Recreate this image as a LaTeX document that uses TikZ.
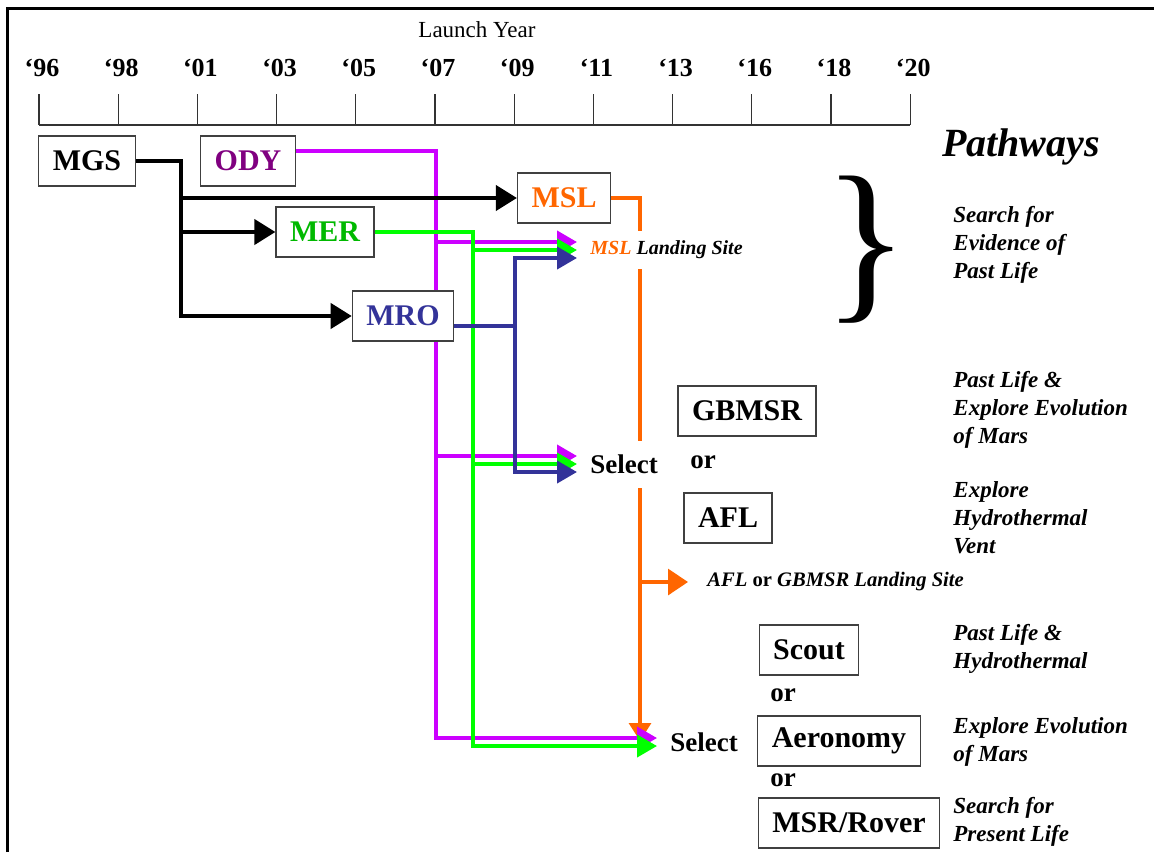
\documentclass[tikz,border=0pt]{standalone}
\usepackage{fontspec}
\setmainfont{Liberation Serif}
\usetikzlibrary{arrows.meta,backgrounds}

\definecolor{odytext}{RGB}{128,0,128}
\definecolor{odyline}{RGB}{204,0,255}
\definecolor{merline}{RGB}{0,255,0}
\definecolor{mertext}{RGB}{0,185,0}
\definecolor{mroblue}{RGB}{51,51,153}
\definecolor{mslorange}{RGB}{255,102,0}

\begin{document}
\begin{tikzpicture}[
  x=0.5pt, y=-0.5pt,
    mission/.style={draw=black!75, line width=0.6pt, fill=white, inner xsep=7pt,
      minimum height=25pt, font=\fontsize{15}{18}\selectfont\bfseries},
    choice/.style={font=\fontsize{13.5}{16}\selectfont\bfseries},
    goal/.style={anchor=west, align=left, inner sep=0pt,
      font=\fontsize{11.5}{14}\selectfont\bfseries\itshape},
    site/.style={anchor=west, fill=white, inner xsep=6.5pt, inner ysep=5pt,
      font=\fontsize{10}{12}\selectfont\bfseries\itshape},
    select/.style={anchor=west, fill=white, inner xsep=6.5pt, inner ysep=7pt,
      font=\fontsize{13.5}{16}\selectfont\bfseries},
    year/.style={font=\fontsize{13}{15}\selectfont\bfseries},
    axis/.style={line width=0.6pt, black!80},
    feed/.style={line width=2pt, -{Triangle[length=10.5pt,width=12.5pt]}},
    pin/.style={line width=2pt, -{Triangle[length=10pt,width=11pt]}}
]
\useasboundingbox (0,0) rectangle (1154,852);

% Frame
\draw[line width=1.5pt] (7,852) -- (7,8) -- (1154,8);

% Time axis
\node[font=\fontsize{11.5}{14}\selectfont] (title) at (477,30) {Launch Year};
\draw[axis] (39,125) -- (910,125);
\foreach \yr [count=\i from 0] in {96,98,01,03,05,07,09,11,13,16,18,20} {
  \draw[axis] (39+79.2*\i,94) -- (39+79.2*\i,125);
  \node[year] (yr\i) at (42+79.2*\i,68) {`\yr};
}

% Missions
\node[mission] (MGS) at (87,161) {MGS};
\node[mission, text=odytext] (ODY) at (248,161) {ODY};
\node[mission, text=mslorange] (MSL) at (564,198) {MSL};
\node[mission, text=mertext] (MER) at (325,232) {MER};
\node[mission, text=mroblue] (MRO) at (403,316) {MRO};
\node[mission] (GBMSR) at (747,411) {GBMSR};
\node[mission] (AFL) at (728,518) {AFL};
\node[mission] (Scout) at (809,650) {Scout};
\node[mission] (Aeronomy) at (839,741) {Aeronomy};
\node[mission] (MSRRover) at (849,823) {MSR/Rover};

\node[choice] (or1) at (703,462) {or};
\node[choice] (or2) at (783,695) {or};
\node[choice] (or3) at (783,780) {or};

% Landing sites and selections
\node[site] (mslsite) at (577,250) {{\color{mslorange}MSL} Landing Site};
\node[select] (sel1) at (577,464) {Select};
\node[site, inner xsep=9.5pt, font=\fontsize{10.3}{12}\selectfont\bfseries\itshape]
  (aflsite) at (688,582) {AFL {\upshape or} GBMSR Landing Site};
\node[select] (sel2) at (657,742) {Select};

% Pathways
\node[font=\fontsize{20}{24}\selectfont\bfseries\itshape] (pathways) at (1021,147) {Pathways};
\node[inner sep=0pt, font=\fontsize{89}{89}\selectfont] (brace) at (866,250) {\}};
\node[goal] (goal1) at (953,245) {Search for\\Evidence of\\Past Life};
\node[goal] (goal2) at (953,410) {Past Life \&\\Explore Evolution\\of Mars};
\node[goal] (goal3) at (953,518) {Explore\\Hydrothermal\\Vent};
\node[goal] (goal4) at (953,649) {Past Life \&\\Hydrothermal};
\node[goal] (goal5) at (953,742) {Explore Evolution\\of Mars};
\node[goal] (goal6) at (953,822) {Search for\\Present Life};

% Bus points and arrow targets
\coordinate (mgsbus) at (181,161);
\coordinate (odybus) at (436,151);
\coordinate (merbus) at (473,232);
\coordinate (mrobus) at (515,326);
\coordinate (mslbus) at (640,198);
\coordinate (mslend) at (640,741);
\coordinate (mslP) at ([yshift=4pt]mslsite.west);
\coordinate (mslG) at (mslsite.west);
\coordinate (mslB) at ([yshift=-4pt]mslsite.west);
\coordinate (sel1P) at ([yshift=4pt]sel1.west);
\coordinate (sel1G) at (sel1.west);
\coordinate (sel1B) at ([yshift=-4pt]sel1.west);
\coordinate (sel2P) at ([yshift=2pt]sel2.west);
\coordinate (sel2G) at ([yshift=-2pt]sel2.west);

% All edges sit behind the boxes and labels
\begin{scope}[on background layer]
% Edges (MSL)
\draw[line width=1.6pt, mslorange, -{Triangle[length=9pt,width=11pt]}]
  (MSL.east) -- (mslbus) -- (mslend);
\draw[line width=1.6pt, mslorange, -{Triangle[length=10pt,width=13pt]}]
  (mslbus |- aflsite.west) -- (aflsite.west);

% Edges (ODY)
\draw[pin, odyline] ([yshift=5pt]ODY.east) -- (odybus) |- (sel2P);
\draw[pin, odyline] (odybus |- mslP) -- (mslP);
\draw[pin, odyline] (odybus |- sel1P) -- (sel1P);

% Edges (MER)
\draw[pin, merline] (MER.east) -- (merbus) |- (sel2G);
\draw[pin, merline] (merbus |- mslG) -- (mslG);
\draw[pin, merline] (merbus |- sel1G) -- (sel1G);

% Edges (MRO)
\draw[line width=2pt, mroblue] ([yshift=-5pt]MRO.east) -- (mrobus);
\draw[pin, mroblue] (mrobus) |- (mslB);
\draw[pin, mroblue] (mrobus) |- (sel1B);

% Edges (MGS)
\draw[feed] (MGS.east) -- (mgsbus) |- (MRO.west);
\draw[feed] (mgsbus |- MSL.west) -- (MSL.west);
\draw[feed] (mgsbus |- MER.west) -- (MER.west);
\end{scope}

\end{tikzpicture}
\end{document}
